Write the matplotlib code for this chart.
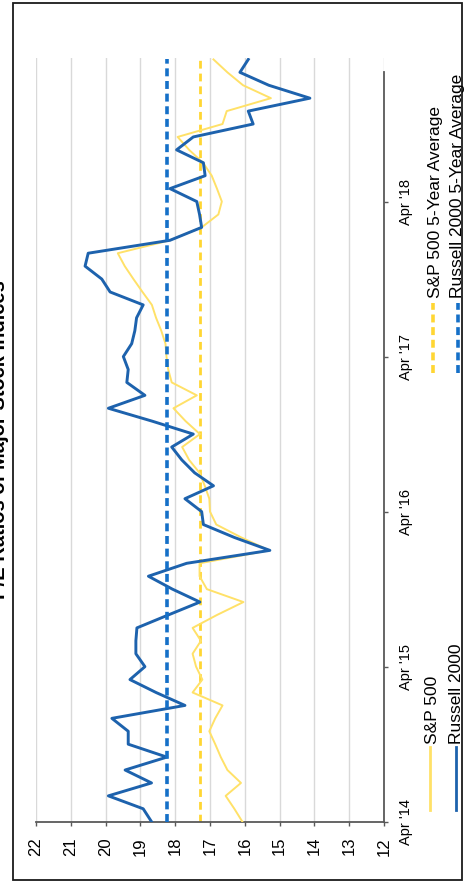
import matplotlib
matplotlib.use("Agg")
import matplotlib.pyplot as plt
from matplotlib.lines import Line2D
from matplotlib.patches import Rectangle

plt.rcParams['font.family'] = ['Liberation Sans', 'DejaVu Sans']

# ---------------- data ----------------
months = list(range(60))  # months since Apr 2014
russell = [18.68, 18.92, 19.92, 18.68, 19.44, 18.24, 19.35, 19.35, 19.82, 17.72,
           18.55, 19.30, 18.87, 19.13, 19.13, 19.10, 18.20, 17.29, 18.08, 18.77,
           17.67, 15.28, 16.30, 17.19, 17.24, 17.72, 16.90, 17.44, 17.81, 18.10,
           17.48, 18.66, 19.92, 18.87, 19.39, 19.35, 19.49, 19.25, 19.16, 19.11,
           18.92, 19.87, 20.11, 20.59, 20.50, 18.15, 17.24, 17.30, 17.38, 18.15,
           17.14, 17.19, 17.96, 17.48, 15.76, 15.90, 14.13, 15.31, 16.14, 15.90]
sp500 = [16.07, 16.30, 16.55, 16.11, 16.50, 16.69, 16.85, 17.02, 16.85, 16.64,
         17.50, 17.22, 17.40, 17.50, 17.26, 17.50, 16.80, 16.04, 17.09, 17.30,
         17.30, 15.30, 16.10, 16.82, 17.00, 17.02, 17.15, 17.30, 17.60, 17.80,
         17.29, 17.70, 18.05, 17.38, 18.10, 18.20, 18.25, 18.28, 18.40, 18.55,
         18.67, 18.94, 19.20, 19.45, 19.65, 18.15, 17.24, 16.76, 16.66, 16.80,
         16.95, 17.20, 17.60, 17.93, 16.64, 16.52, 15.25, 16.05, 16.50, 16.90]
sp500_avg = 17.3
russell_avg = 18.25
tick_months = [0, 12, 24, 36, 48]
tick_labels = ["Apr '14", "Apr '15", "Apr '16", "Apr '17", "Apr '18"]
pe_ticks = list(range(12, 23))
title = "P/E Ratios of Major Stock Indices"
legend_labels = ["S&P 500", "Russell 2000", "S&P 500 5-Year Average",
                 "Russell 2000 5-Year Average"]

# ---------------- style ----------------
C_BLUE = "#1D62AD"
C_BLUE_D = "#1570C8"
C_YEL = "#FFE168"
C_YEL_D = "#FFD633"
C_AXIS = "#595959"
C_GRID = "#D9D9D9"

W, H = 465, 888
fig = plt.figure(figsize=(W / 100, H / 100), dpi=100)


def fx(x):
    return x / W


def fy(y):
    return 1 - y / H


PX_PER_MONTH = 12.92
y0, ytop = 821.7, 58.0
ax = fig.add_axes([fx(36), fy(y0), fx(384) - fx(36), fy(ytop) - fy(y0)])
ax.set_xlim(22, 12)
ax.set_ylim(0, (y0 - ytop) / PX_PER_MONTH)

ax.plot(sp500, months, color=C_YEL, lw=1.4, zorder=3, solid_joinstyle='round')
ax.plot(russell, months, color=C_BLUE, lw=2.1, zorder=4, solid_joinstyle='round')
ax.plot([sp500_avg, sp500_avg], [months[0], months[-1]], color=C_YEL_D, lw=2.0,
        dashes=(2.8, 1.8), zorder=2)
ax.plot([russell_avg, russell_avg], [months[0], months[-1]], color=C_BLUE_D, lw=2.6,
        dashes=(2.2, 1.3), zorder=5)

ax.set_xticks(pe_ticks)
ax.set_xticklabels([str(t) for t in pe_ticks], rotation=90, fontsize=12,
                   va='top', ha='center')
ax.grid(axis='x', color=C_GRID, lw=1.0, zorder=0)
ax.tick_params(axis='x', direction='out', length=3, width=1, color=C_AXIS, pad=8)

ax.yaxis.tick_right()
ax.set_yticks(tick_months)
ax.set_yticklabels(tick_labels, rotation=90, fontsize=10.5, va='center', ha='left')
ax.tick_params(axis='y', direction='out', length=3, width=1, color=C_AXIS, pad=8)

for s in ['top', 'left']:
    ax.spines[s].set_visible(False)
ax.spines['bottom'].set_color(C_AXIS)
ax.spines['bottom'].set_linewidth(1.3)
ax.spines['right'].set_color(C_AXIS)
ax.spines['right'].set_linewidth(1.3)
ax.spines['right'].set_bounds(0, (y0 - 72) / PX_PER_MONTH)

# title (rotated, mostly clipped at left edge as in the scanned original)
fig.text(fx(5), fy(440), title, rotation=90, rotation_mode='anchor',
         ha='center', va='baseline', fontsize=14.5, fontweight='bold')


# legend (manual, rotated)
def leg_line(x, ya, yb, color, lw, dashes=None):
    ln = Line2D([fx(x), fx(x)], [fy(ya), fy(yb)], transform=fig.transFigure,
                color=color, lw=lw)
    if dashes:
        ln.set_dashes(dashes)
    fig.add_artist(ln)


leg_line(430, 810, 747, C_YEL, 2.0)
leg_line(456, 810, 747, C_BLUE, 2.0)
leg_line(433, 373, 303, C_YEL_D, 2.6, (2.2, 1.3))
leg_line(458, 373, 303, C_BLUE_D, 2.6, (2.2, 1.3))
fig.text(fx(437), fy(744), legend_labels[0], rotation=90, rotation_mode='anchor',
         ha='left', va='baseline', fontsize=12.5)
fig.text(fx(461), fy(744), legend_labels[1], rotation=90, rotation_mode='anchor',
         ha='left', va='baseline', fontsize=12.5)
fig.text(fx(440), fy(298), legend_labels[2], rotation=90, rotation_mode='anchor',
         ha='left', va='baseline', fontsize=12.5)
fig.text(fx(462), fy(298), legend_labels[3], rotation=90, rotation_mode='anchor',
         ha='left', va='baseline', fontsize=12.5)

# frame
fig.add_artist(Rectangle((fx(13), fy(880)), fx(462) - fx(13), fy(3) - fy(880),
                         transform=fig.transFigure, fill=False, ec='#1A1A1A', lw=1.3))

fig.savefig("out.png", dpi=100, facecolor='white')
